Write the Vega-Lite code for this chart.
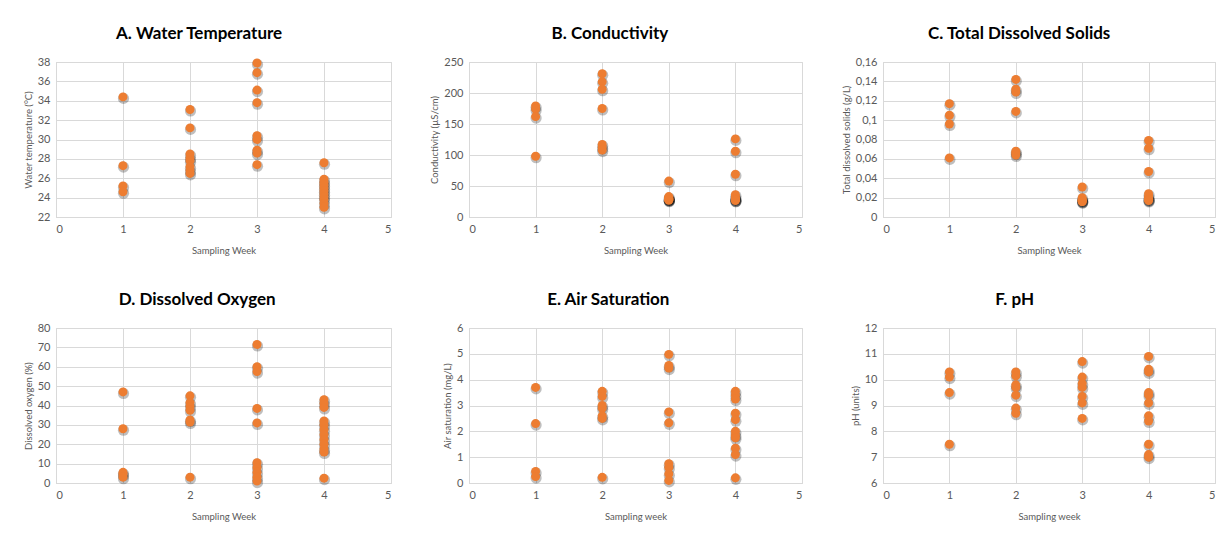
{
  "$schema": "https://vega.github.io/schema/vega-lite/v6.json",
  "padding": {"left": 22, "top": 24, "right": 5, "bottom": 5},
  "background": "white",
  "config": {
    "font": "Lato",
    "view": {"stroke": "#d9d9d9"},
    "axis": {
      "domainColor": "#d9d9d9",
      "gridColor": "#d9d9d9",
      "ticks": false,
      "labelColor": "#595959",
      "labelFontSize": 11,
      "labelFont": "Lato",
      "titleFont": "Lato",
      "titleFontSize": 9.5,
      "titleFontWeight": "normal",
      "titleColor": "#595959",
      "labelPadding": 6
    },
    "axisX": {"titlePadding": 11},
    "title": {"font": "Lato", "fontSize": 17, "fontWeight": "bold", "color": "#000000", "anchor": "middle", "frame": "bounds", "offset": 13},
    "concat": {"spacing": {"row": 35, "column": 37}}
  },
  "datasets": {
    "d": [
      {"panel":"A","week":1,"value":34.4},{"panel":"A","week":1,"value":27.3},{"panel":"A","week":1,"value":25.2},{"panel":"A","week":1,"value":24.6},
      {"panel":"A","week":2,"value":33.1},{"panel":"A","week":2,"value":31.2},{"panel":"A","week":2,"value":28.5},{"panel":"A","week":2,"value":28.1},{"panel":"A","week":2,"value":27.8},{"panel":"A","week":2,"value":27.2},{"panel":"A","week":2,"value":26.8},{"panel":"A","week":2,"value":26.5},
      {"panel":"A","week":3,"value":37.9},{"panel":"A","week":3,"value":36.9},{"panel":"A","week":3,"value":35.1},{"panel":"A","week":3,"value":33.8},{"panel":"A","week":3,"value":30.4},{"panel":"A","week":3,"value":30.0},{"panel":"A","week":3,"value":28.9},{"panel":"A","week":3,"value":28.6},{"panel":"A","week":3,"value":27.4},
      {"panel":"A","week":4,"value":27.6},{"panel":"A","week":4,"value":25.9},{"panel":"A","week":4,"value":25.6},{"panel":"A","week":4,"value":25.3},{"panel":"A","week":4,"value":25.0},{"panel":"A","week":4,"value":24.7},{"panel":"A","week":4,"value":24.4},{"panel":"A","week":4,"value":24.1},{"panel":"A","week":4,"value":23.8},{"panel":"A","week":4,"value":23.4},{"panel":"A","week":4,"value":23.0},

      {"panel":"B","week":1,"value":179},{"panel":"B","week":1,"value":174},{"panel":"B","week":1,"value":162},{"panel":"B","week":1,"value":98},
      {"panel":"B","week":2,"value":231},{"panel":"B","week":2,"value":218},{"panel":"B","week":2,"value":206},{"panel":"B","week":2,"value":175},{"panel":"B","week":2,"value":117},{"panel":"B","week":2,"value":112},{"panel":"B","week":2,"value":108},
      {"panel":"B","week":3,"value":58},{"panel":"B","week":3,"value":33},{"panel":"B","week":3,"value":31},{"panel":"B","week":3,"value":30},{"panel":"B","week":3,"value":29},{"panel":"B","week":3,"value":29},{"panel":"B","week":3,"value":28},{"panel":"B","week":3,"value":28},{"panel":"B","week":3,"value":27},
      {"panel":"B","week":4,"value":126},{"panel":"B","week":4,"value":106},{"panel":"B","week":4,"value":69},{"panel":"B","week":4,"value":36},{"panel":"B","week":4,"value":32},{"panel":"B","week":4,"value":30},{"panel":"B","week":4,"value":29},{"panel":"B","week":4,"value":28},{"panel":"B","week":4,"value":27},{"panel":"B","week":4,"value":27},

      {"panel":"C","week":1,"value":0.117},{"panel":"C","week":1,"value":0.105},{"panel":"C","week":1,"value":0.096},{"panel":"C","week":1,"value":0.061},
      {"panel":"C","week":2,"value":0.142},{"panel":"C","week":2,"value":0.132},{"panel":"C","week":2,"value":0.129},{"panel":"C","week":2,"value":0.109},{"panel":"C","week":2,"value":0.068},{"panel":"C","week":2,"value":0.066},{"panel":"C","week":2,"value":0.064},
      {"panel":"C","week":3,"value":0.031},{"panel":"C","week":3,"value":0.020},{"panel":"C","week":3,"value":0.018},{"panel":"C","week":3,"value":0.017},{"panel":"C","week":3,"value":0.017},{"panel":"C","week":3,"value":0.016},{"panel":"C","week":3,"value":0.016},
      {"panel":"C","week":4,"value":0.079},{"panel":"C","week":4,"value":0.071},{"panel":"C","week":4,"value":0.047},{"panel":"C","week":4,"value":0.024},{"panel":"C","week":4,"value":0.021},{"panel":"C","week":4,"value":0.019},{"panel":"C","week":4,"value":0.018},{"panel":"C","week":4,"value":0.018},{"panel":"C","week":4,"value":0.017},

      {"panel":"D","week":1,"value":47},{"panel":"D","week":1,"value":28},{"panel":"D","week":1,"value":5.5},{"panel":"D","week":1,"value":4.5},{"panel":"D","week":1,"value":3},
      {"panel":"D","week":2,"value":45},{"panel":"D","week":2,"value":41.5},{"panel":"D","week":2,"value":39.5},{"panel":"D","week":2,"value":37.5},{"panel":"D","week":2,"value":32.5},{"panel":"D","week":2,"value":31.5},{"panel":"D","week":2,"value":3},
      {"panel":"D","week":3,"value":71.5},{"panel":"D","week":3,"value":60},{"panel":"D","week":3,"value":57.5},{"panel":"D","week":3,"value":38.5},{"panel":"D","week":3,"value":31},{"panel":"D","week":3,"value":10.5},{"panel":"D","week":3,"value":8},{"panel":"D","week":3,"value":5.5},{"panel":"D","week":3,"value":3},{"panel":"D","week":3,"value":1},
      {"panel":"D","week":4,"value":43},{"panel":"D","week":4,"value":41},{"panel":"D","week":4,"value":39},{"panel":"D","week":4,"value":32},{"panel":"D","week":4,"value":30},{"panel":"D","week":4,"value":27.5},{"panel":"D","week":4,"value":25},{"panel":"D","week":4,"value":22.5},{"panel":"D","week":4,"value":20},{"panel":"D","week":4,"value":17.5},{"panel":"D","week":4,"value":16},{"panel":"D","week":4,"value":2.5},

      {"panel":"E","week":1,"value":3.7},{"panel":"E","week":1,"value":2.3},{"panel":"E","week":1,"value":0.45},{"panel":"E","week":1,"value":0.25},
      {"panel":"E","week":2,"value":3.55},{"panel":"E","week":2,"value":3.35},{"panel":"E","week":2,"value":3.0},{"panel":"E","week":2,"value":2.9},{"panel":"E","week":2,"value":2.6},{"panel":"E","week":2,"value":2.5},{"panel":"E","week":2,"value":0.22},
      {"panel":"E","week":3,"value":4.98},{"panel":"E","week":3,"value":4.55},{"panel":"E","week":3,"value":4.45},{"panel":"E","week":3,"value":2.75},{"panel":"E","week":3,"value":2.33},{"panel":"E","week":3,"value":0.75},{"panel":"E","week":3,"value":0.6},{"panel":"E","week":3,"value":0.35},{"panel":"E","week":3,"value":0.1},
      {"panel":"E","week":4,"value":3.55},{"panel":"E","week":4,"value":3.4},{"panel":"E","week":4,"value":3.25},{"panel":"E","week":4,"value":2.7},{"panel":"E","week":4,"value":2.45},{"panel":"E","week":4,"value":2.0},{"panel":"E","week":4,"value":1.85},{"panel":"E","week":4,"value":1.75},{"panel":"E","week":4,"value":1.35},{"panel":"E","week":4,"value":1.1},{"panel":"E","week":4,"value":0.2},

      {"panel":"F","week":1,"value":10.3},{"panel":"F","week":1,"value":10.1},{"panel":"F","week":1,"value":9.5},{"panel":"F","week":1,"value":7.5},
      {"panel":"F","week":2,"value":10.3},{"panel":"F","week":2,"value":10.15},{"panel":"F","week":2,"value":9.8},{"panel":"F","week":2,"value":9.7},{"panel":"F","week":2,"value":9.4},{"panel":"F","week":2,"value":8.9},{"panel":"F","week":2,"value":8.7},
      {"panel":"F","week":3,"value":10.7},{"panel":"F","week":3,"value":10.1},{"panel":"F","week":3,"value":9.85},{"panel":"F","week":3,"value":9.7},{"panel":"F","week":3,"value":9.35},{"panel":"F","week":3,"value":9.1},{"panel":"F","week":3,"value":8.5},
      {"panel":"F","week":4,"value":10.9},{"panel":"F","week":4,"value":10.4},{"panel":"F","week":4,"value":10.3},{"panel":"F","week":4,"value":9.5},{"panel":"F","week":4,"value":9.4},{"panel":"F","week":4,"value":9.1},{"panel":"F","week":4,"value":8.6},{"panel":"F","week":4,"value":8.4},{"panel":"F","week":4,"value":7.5},{"panel":"F","week":4,"value":7.1},{"panel":"F","week":4,"value":7.0}
    ]
  },
  "data": {"name": "d"},
  "columns": 3,
  "concat": [
    {
      "title": {"text": "A. Water Temperature", "dx": -8},
      "width": 335, "height": 155,
      "transform": [{"filter": "datum.panel === 'A'"}],
      "encoding": {
        "x": {"field": "week", "type": "quantitative", "scale": {"domain": [0, 5], "nice": false}, "axis": {"values": [0,1,2,3,4,5], "title": "Sampling Week"}},
        "y": {"field": "value", "type": "quantitative", "scale": {"domain": [22, 38], "nice": false, "zero": false}, "axis": {"values": [22,24,26,28,30,32,34,36,38], "title": "Water temperature (°C)"}}
      },
      "layer": [
        {"mark": {"type": "circle", "color": "#000000", "opacity": 0.25, "size": 125, "yOffset": 1.5, "xOffset": 0.5}},
        {"mark": {"type": "circle", "color": "#ED7D31", "opacity": 1, "size": 80}}
      ]
    },
    {
      "title": {"text": "B. Conductivity", "dx": -6},
      "width": 333, "height": 155,
      "transform": [{"filter": "datum.panel === 'B'"}],
      "encoding": {
        "x": {"field": "week", "type": "quantitative", "scale": {"domain": [0, 5], "nice": false}, "axis": {"values": [0,1,2,3,4,5], "title": "Sampling Week"}},
        "y": {"field": "value", "type": "quantitative", "scale": {"domain": [0, 250], "nice": false}, "axis": {"values": [0,50,100,150,200,250], "title": "Conductivity (µS/cm)"}}
      },
      "layer": [
        {"mark": {"type": "circle", "color": "#000000", "opacity": 0.25, "size": 125, "yOffset": 1.5, "xOffset": 0.5}},
        {"mark": {"type": "circle", "color": "#ED7D31", "opacity": 1, "size": 80}}
      ]
    },
    {
      "title": {"text": "C. Total Dissolved Solids", "dx": -9},
      "width": 332, "height": 155,
      "transform": [{"filter": "datum.panel === 'C'"}],
      "encoding": {
        "x": {"field": "week", "type": "quantitative", "scale": {"domain": [0, 5], "nice": false}, "axis": {"values": [0,1,2,3,4,5], "title": "Sampling Week"}},
        "y": {"field": "value", "type": "quantitative", "scale": {"domain": [0, 0.16], "nice": false}, "axis": {"values": [0,0.02,0.04,0.06,0.08,0.1,0.12,0.14,0.16], "title": "Total dissolved solids (g/L)", "labelExpr": "replace(format(datum.value, '.2~f'), '.', ',')"}}
      },
      "layer": [
        {"mark": {"type": "circle", "color": "#000000", "opacity": 0.25, "size": 125, "yOffset": 1.5, "xOffset": 0.5}},
        {"mark": {"type": "circle", "color": "#ED7D31", "opacity": 1, "size": 80}}
      ]
    },
    {
      "title": {"text": "D. Dissolved Oxygen", "dx": -10},
      "width": 335, "height": 155,
      "transform": [{"filter": "datum.panel === 'D'"}],
      "encoding": {
        "x": {"field": "week", "type": "quantitative", "scale": {"domain": [0, 5], "nice": false}, "axis": {"values": [0,1,2,3,4,5], "title": "Sampling Week"}},
        "y": {"field": "value", "type": "quantitative", "scale": {"domain": [0, 80], "nice": false}, "axis": {"values": [0,10,20,30,40,50,60,70,80], "title": "Dissolved oxygen (%)"}}
      },
      "layer": [
        {"mark": {"type": "circle", "color": "#000000", "opacity": 0.25, "size": 125, "yOffset": 1.5, "xOffset": 0.5}},
        {"mark": {"type": "circle", "color": "#ED7D31", "opacity": 1, "size": 80}}
      ]
    },
    {
      "title": {"text": "E. Air Saturation", "dx": -14},
      "width": 333, "height": 155,
      "transform": [{"filter": "datum.panel === 'E'"}],
      "encoding": {
        "x": {"field": "week", "type": "quantitative", "scale": {"domain": [0, 5], "nice": false}, "axis": {"values": [0,1,2,3,4,5], "title": "Sampling week"}},
        "y": {"field": "value", "type": "quantitative", "scale": {"domain": [0, 6], "nice": false}, "axis": {"values": [0,1,2,3,4,5,6], "title": "Air saturation (mg/L)"}}
      },
      "layer": [
        {"mark": {"type": "circle", "color": "#000000", "opacity": 0.25, "size": 125, "yOffset": 1.5, "xOffset": 0.5}},
        {"mark": {"type": "circle", "color": "#ED7D31", "opacity": 1, "size": 80}}
      ]
    },
    {
      "title": {"text": "F.  pH", "dx": -18},
      "width": 332, "height": 155,
      "transform": [{"filter": "datum.panel === 'F'"}],
      "encoding": {
        "x": {"field": "week", "type": "quantitative", "scale": {"domain": [0, 5], "nice": false}, "axis": {"values": [0,1,2,3,4,5], "title": "Sampling week"}},
        "y": {"field": "value", "type": "quantitative", "scale": {"domain": [6, 12], "nice": false, "zero": false}, "axis": {"values": [6,7,8,9,10,11,12], "title": "pH (units)"}}
      },
      "layer": [
        {"mark": {"type": "circle", "color": "#000000", "opacity": 0.25, "size": 125, "yOffset": 1.5, "xOffset": 0.5}},
        {"mark": {"type": "circle", "color": "#ED7D31", "opacity": 1, "size": 80}}
      ]
    }
  ]
}
